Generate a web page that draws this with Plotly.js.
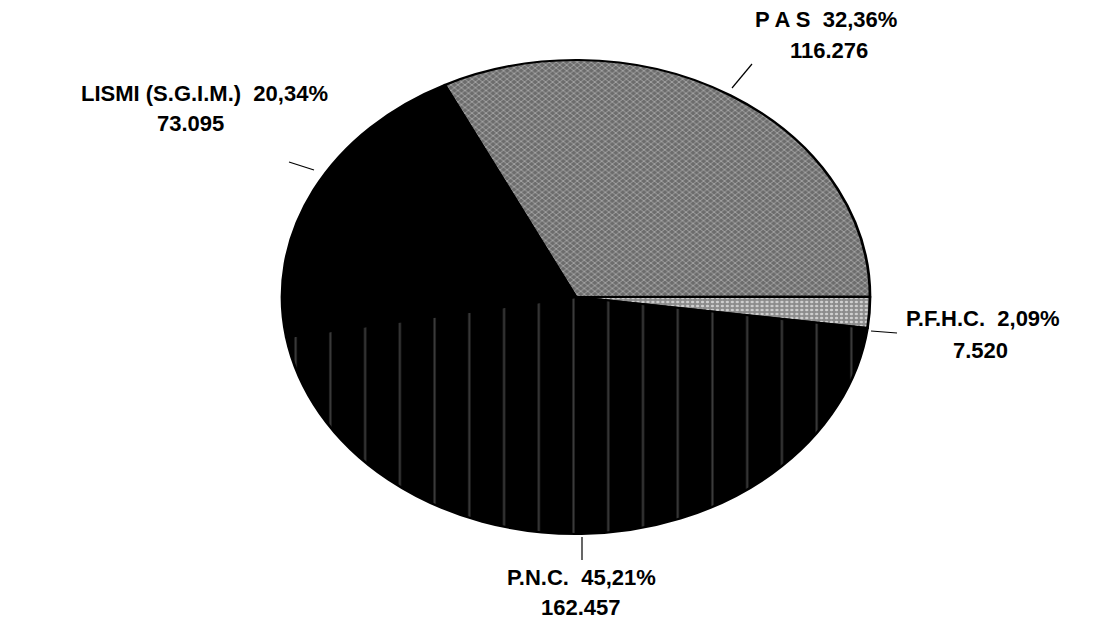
<!DOCTYPE html>
<html>
<head>
<meta charset="utf-8">
<script src="https://cdn.plot.ly/plotly-3.0.1.min.js"></script>
<style>html,body{margin:0;padding:0;background:#fff;}#chart{width:1093px;height:620px;}</style>
</head>
<body>
<div id="chart"></div>
<script>
// Data
var categories = ['P A S', 'P.F.H.C.', 'P.N.C.', 'LISMI (S.G.I.M.)'];
var values = [116276, 7520, 162457, 73095];
var percentLabels = ['32,36%', '2,09%', '45,21%', '20,34%'];
var valueLabels = ['116.276', '7.520', '162.457', '73.095'];
var sliceColors = ['#808080', '#a4a4a4', '#000000', '#000000'];

var W = 1093, H = 620;
var cx = 576, cy = 297, ry = 237, rx = 294;

var trace = {
  type: 'pie',
  labels: categories,
  values: values,
  sort: false,
  direction: 'clockwise',
  rotation: -26.5,
  textinfo: 'none',
  hoverinfo: 'label+value',
  showlegend: false,
  domain: {
    x: [(cx - ry) / W, (cx + ry) / W],
    y: [(H - cy - ry) / H, (H - cy + ry) / H]
  },
  marker: {
    colors: sliceColors,
    line: {color: '#000000', width: 2.2},
    pattern: {
      shape: ['x', '.', '|', ''],
      fgcolor: ['#b4b4b4', '#d0d0d0', '#3c3c3c', '#000000'],
      bgcolor: ['#6c6c6c', '#8c8c8c', '#000000', '#000000'],
      size: [4, 4, 28, 8],
      solidity: [0.3, 0.35, 0.06, 0.1],
      fgopacity: [0.8, 0.8, 0.9, 1]
    }
  }
};

function lab(i, x, y, text) {
  return {xref: 'paper', yref: 'paper', x: x / W, y: 1 - y / H, xanchor: 'center', yanchor: 'middle',
    text: text, showarrow: false,
    font: {family: 'Liberation Sans, Arial, sans-serif', size: 22, color: '#000'}};
}
var annotations = [
  lab(0, 826, 20, '<b>' + categories[0] + '  ' + percentLabels[0] + '</b>'),
  lab(0, 829, 50, '<b>' + valueLabels[0] + '</b>'),
  lab(3, 204, 93, '<b>' + categories[3] + '  ' + percentLabels[3] + '</b>'),
  lab(3, 190, 124, '<b>' + valueLabels[3] + '</b>'),
  lab(1, 983, 318, '<b>' + categories[1] + '  ' + percentLabels[1] + '</b>'),
  lab(1, 980, 350, '<b>' + valueLabels[1] + '</b>'),
  lab(2, 581, 577, '<b>' + categories[2] + '  ' + percentLabels[2] + '</b>'),
  lab(2, 581, 607, '<b>' + valueLabels[2] + '</b>')
];

function seg(x0, y0, x1, y1) {
  return {type: 'line', xref: 'paper', yref: 'paper', x0: x0 / W, y0: 1 - y0 / H, x1: x1 / W, y1: 1 - y1 / H,
    line: {color: '#000', width: 1.2}};
}
var shapes = [
  seg(752, 64, 732, 88),
  seg(289, 162, 314, 170),
  seg(871, 331, 897, 333),
  seg(582, 537, 582, 560)
];

var layout = {
  width: W, height: H,
  margin: {l: 0, r: 0, t: 0, b: 0},
  paper_bgcolor: '#ffffff',
  plot_bgcolor: '#ffffff',
  annotations: annotations,
  shapes: shapes
};

Plotly.newPlot('chart', [trace], layout, {displayModeBar: false, staticPlot: true}).then(function () {
  var sx = rx / ry;
  var g = document.querySelector('.pielayer');
  if (g) {
    g.setAttribute('transform', 'translate(' + cx + ',0) scale(' + sx + ',1) translate(' + (-cx) + ',0)');
  }
});
</script>
</body>
</html>
